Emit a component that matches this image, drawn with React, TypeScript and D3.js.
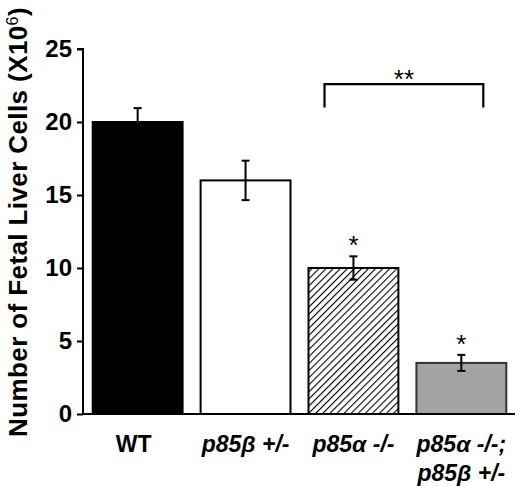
import { useEffect, useRef } from 'react';
import * as d3 from 'd3';

const groups = ['WT', 'p85b+/-', 'p85a-/-', 'p85a-/-;p85b+/-'];
const cellCounts = [20, 16, 10, 3.5];
const errors = [0.95, 1.35, 0.8, 0.55];
const fills = ['#000000', '#ffffff', 'url(#hatch)', '#a3a3a3'];
const yTicks = [0, 5, 10, 15, 20, 25];
const starGroups = ['p85a-/-', 'p85a-/-;p85b+/-'];
const bracketPair = ['p85a-/-', 'p85a-/-;p85b+/-'];

const W = 520;
const H = 486;
const FONT = 'Arial, "Liberation Sans", sans-serif';

export default function App() {
  const svgRef = useRef<SVGSVGElement>(null);

  useEffect(() => {
    if (!svgRef.current) return;
    const svg = d3.select(svgRef.current);
    svg.selectAll('*').remove();

    const x0 = 83;
    const y0 = 414;

    const x = d3.scaleBand<string>()
      .domain(groups)
      .range([x0, 516])
      .paddingInner(0.167)
      .paddingOuter(0.09);

    const y = d3.scaleLinear().domain([0, 25]).range([y0, 49]);

    // hatch pattern for p85a -/-
    const defs = svg.append('defs');
    const pat = defs.append('pattern')
      .attr('id', 'hatch')
      .attr('patternUnits', 'userSpaceOnUse')
      .attr('width', 5)
      .attr('height', 5)
      .attr('patternTransform', 'rotate(45)');
    pat.append('rect').attr('width', 5).attr('height', 5).attr('fill', '#fff');
    pat.append('line')
      .attr('x1', 0).attr('y1', 0).attr('x2', 0).attr('y2', 5)
      .attr('stroke', '#000').attr('stroke-width', 2.2);

    // bars
    svg.append('g')
      .selectAll('rect')
      .data(groups)
      .join('rect')
      .attr('x', (d) => x(d)!)
      .attr('y', (_, i) => y(cellCounts[i]))
      .attr('width', x.bandwidth())
      .attr('height', (_, i) => y0 - y(cellCounts[i]))
      .attr('fill', (_, i) => fills[i])
      .attr('stroke', (_, i) => (i === 3 ? '#333' : '#000'))
      .attr('stroke-width', 2);

    // error bars
    const eb = svg.append('g').attr('stroke', '#000').attr('stroke-width', 2);
    groups.forEach((g, i) => {
      const cx = x(g)! + x.bandwidth() / 2;
      const top = y(cellCounts[i] + errors[i]);
      const bot = y(cellCounts[i] - errors[i]);
      eb.append('line').attr('x1', cx).attr('x2', cx).attr('y1', top).attr('y2', bot);
      eb.append('line').attr('x1', cx - 4).attr('x2', cx + 4).attr('y1', top).attr('y2', top);
      eb.append('line').attr('x1', cx - 4).attr('x2', cx + 4).attr('y1', bot).attr('y2', bot);
    });

    // single stars
    starGroups.forEach((g) => {
      const i = groups.indexOf(g);
      svg.append('text')
        .attr('x', x(g)! + x.bandwidth() / 2)
        .attr('y', y(cellCounts[i] + errors[i]) - 2)
        .attr('text-anchor', 'middle')
        .style('font-family', FONT)
        .style('font-size', '26px')
        .text('*');
    });

    // significance bracket
    const bx1 = x(bracketPair[0])! + 16;
    const bx2 = x(bracketPair[1])! + x.bandwidth() - 23;
    const by = y(22.6);
    svg.append('path')
      .attr('d', `M${bx1},${y(21)}V${by}H${bx2}V${y(21)}`)
      .attr('fill', 'none')
      .attr('stroke', '#000')
      .attr('stroke-width', 2.2);
    svg.append('text')
      .attr('x', (bx1 + bx2) / 2)
      .attr('y', by + 4)
      .attr('text-anchor', 'middle')
      .style('font-family', FONT)
      .style('font-size', '26px')
      .text('**');

    // axes
    svg.append('line')
      .attr('x1', x0).attr('x2', 515).attr('y1', y0).attr('y2', y0)
      .attr('stroke', '#000').attr('stroke-width', 2);

    const yAxis = svg.append('g')
      .attr('transform', `translate(${x0},0)`)
      .call(d3.axisLeft(y).tickValues(yTicks).tickSize(6).tickPadding(5));
    yAxis.select('.domain').attr('stroke-width', 2).attr('d', `M-6,${y(25)}H0V${y0}`);
    yAxis.selectAll('.tick line').attr('stroke-width', 2);
    yAxis.selectAll('.tick text')
      .style('font-family', FONT)
      .style('font-size', '24px')
      .style('font-weight', 'bold')
      .attr('fill', '#000');

    // x labels
    const labelParts: Record<string, [string, string, string][]> = {
      'WT': [['WT', '', '']],
      'p85b+/-': [['p85', '\u03B2', ' +/-']],
      'p85a-/-': [['p85', '\u03B1', ' -/-']],
      'p85a-/-;p85b+/-': [['p85', '\u03B1', ' -/-;'], ['p85', '\u03B2', ' +/-']],
    };
    groups.forEach((g) => {
      const cx = x(g)! + x.bandwidth() / 2 + (g === 'WT' ? -4 : 0);
      labelParts[g].forEach((parts, li) => {
        const t = svg.append('text')
          .attr('x', cx)
          .attr('y', 452 + li * 29)
          .attr('text-anchor', 'middle')
          .style('font-family', FONT)
          .style('font-size', '23px')
          .style('font-weight', 'bold')
          .style('font-style', g === 'WT' ? 'normal' : 'italic');
        t.append('tspan').text(parts[0]);
        if (parts[1]) t.append('tspan').text(parts[1]);
        if (parts[2]) t.append('tspan').text(parts[2]);
      });
    });

    // y title
    const yt = svg.append('text')
      .attr('transform', `translate(27,${222}) rotate(-90)`)
      .attr('text-anchor', 'middle')
      .style('font-family', FONT)
      .style('font-size', '26px')
      .style('letter-spacing', '0.4px')
      .style('font-weight', 'bold');
    yt.append('tspan').text('Number of Fetal Liver Cells (X10');
    yt.append('tspan').attr('dy', -9).style('font-size', '16px').style('font-weight', 'normal').text('6');
    yt.append('tspan').attr('dy', 9).text(')');
  }, []);

  return (
    <svg
      ref={svgRef}
      width={W}
      height={H}
      style={{ position: 'absolute', left: 0, top: 0, background: '#fff' }}
    />
  );
}
